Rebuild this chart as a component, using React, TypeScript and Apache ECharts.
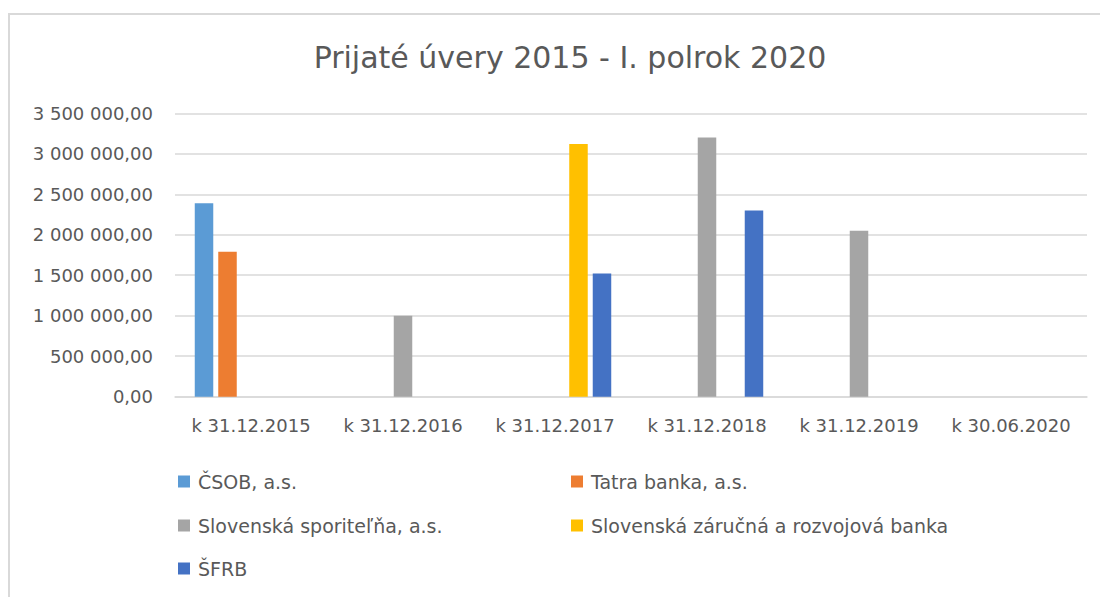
import React, { useEffect, useRef } from "react";
import * as echarts from "echarts";

const categories = ["k 31.12.2015", "k 31.12.2016", "k 31.12.2017", "k 31.12.2018", "k 31.12.2019", "k 30.06.2020"];
const csob = [2390000, null, null, null, null, null];
const tatra = [1790000, null, null, null, null, null];
const sporitelna = [null, 1000000, null, 3200000, 2050000, null];
const szrb = [null, null, 3120000, null, null, null];
const sfrb = [null, null, 1520000, 2300000, null, null];
const seriesNames = ["ČSOB, a.s.", "Tatra banka, a.s.", "Slovenská sporiteľňa, a.s.", "Slovenská záručná a rozvojová banka", "ŠFRB"];
const colors = ["#5B9BD5", "#ED7D31", "#A5A5A5", "#FFC000", "#4472C4"];
const seriesData = [csob, tatra, sporitelna, szrb, sfrb];

const FONT = "DejaVu Sans";

function fmt(v: number): string {
  const s = Math.round(v).toString().replace(/\B(?=(\d{3})+(?!\d))/g, " ");
  return s + ",00";
}

export default function App() {
  const ref = useRef<HTMLDivElement>(null);
  useEffect(() => {
    if (!ref.current) return;
    const chart = echarts.init(ref.current, null, { renderer: "svg" });
    const legendPos = [
      { left: 178, top: 472 },
      { left: 571, top: 472 },
      { left: 178, top: 516 },
      { left: 571, top: 516 },
      { left: 178, top: 559 },
    ];
    chart.setOption({
      animation: false,
      color: colors,
      title: {
        text: "Prijaté úvery 2015 - I. polrok 2020",
        left: 565,
        textAlign: "center",
        top: 37,
        textStyle: { fontFamily: FONT, fontSize: 30, fontWeight: "normal", color: "#595959" },
      },
      graphic: [
        {
          type: "rect",
          shape: { x: 9, y: 14, width: 1200, height: 700 },
          style: { fill: "none", stroke: "#d9d9d9", lineWidth: 2 },
          silent: true,
        },
      ],
      legend: seriesNames.map((n, i) => ({
        data: [n],
        left: legendPos[i].left,
        top: legendPos[i].top,
        padding: 0,
        itemWidth: 12,
        itemHeight: 12,
        itemGap: 6,
        icon: "rect",
        textStyle: { fontFamily: FONT, fontSize: 19, color: "#595959", padding: [0, 0, 0, 3] },
        selectedMode: false,
      })),
      grid: { left: 175, right: 13, top: 113.3, bottom: 200.3 },
      xAxis: {
        type: "category",
        data: categories,
        axisLine: { lineStyle: { color: "#d9d9d9", width: 1.5 } },
        axisTick: { show: false },
        axisLabel: { fontFamily: FONT, fontSize: 18, color: "#595959", margin: 20, interval: 0 },
      },
      yAxis: {
        type: "value",
        min: 0,
        max: 3500000,
        interval: 500000,
        axisLine: { show: false },
        axisTick: { show: false },
        splitLine: { lineStyle: { color: "#d9d9d9", width: 1.5 } },
        axisLabel: {
          fontFamily: FONT,
          fontSize: 18,
          color: "#595959",
          margin: 22,
          formatter: (v: number) => fmt(v),
        },
      },
      series: seriesNames.map((n, i) => ({
        name: n,
        type: "bar",
        data: seriesData[i],
        barGap: "27%",
        barCategoryGap: "26%",
        itemStyle: { color: colors[i] },
      })),
    });
    return () => chart.dispose();
  }, []);
  return <div ref={ref} style={{ position: "absolute", left: 0, top: 0, width: 1100, height: 597 }} />;
}
